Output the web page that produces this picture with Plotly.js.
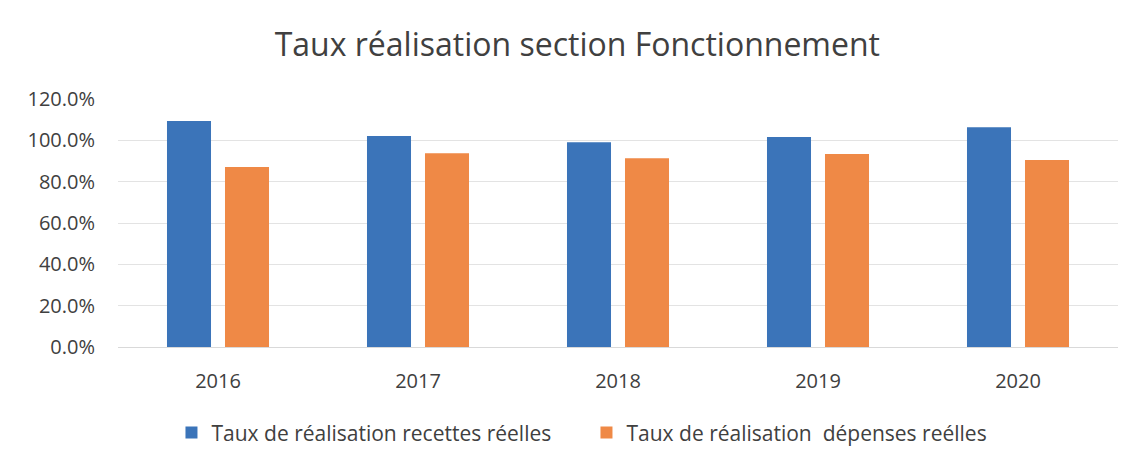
<!DOCTYPE html>
<html>
<head>
<meta charset="utf-8">
<script src="https://cdn.plot.ly/plotly-3.0.1.min.js"></script>
<style>html,body{margin:0;padding:0;background:#fff;}#chart{width:1141px;height:462px;}</style>
</head>
<body>
<div id="chart"></div>
<script>
var years = ["2016", "2017", "2018", "2019", "2020"];
var recettes = [1.094, 1.021, 0.991, 1.016, 1.063];
var depenses = [0.871, 0.938, 0.913, 0.934, 0.905];
var seriesNames = ["Taux de réalisation recettes réelles", "Taux de réalisation  dépenses reélles"];
var tickVals = [0, 0.2, 0.4, 0.6, 0.8, 1.0, 1.2];

var font = "Open Sans, sans-serif";
var data = [
  {type: "bar", x: years, y: recettes, name: seriesNames[0], marker: {color: "#3b74b9"}},
  {type: "bar", x: years, y: depenses, name: seriesNames[1], marker: {color: "#ef8946"}}
];
var layout = {
  width: 1141, height: 462,
  margin: {l: 118, r: 23, t: 99, b: 115},
  paper_bgcolor: "#fff", plot_bgcolor: "#fff",
  font: {family: font, color: "#404040", size: 20},
  title: {text: "Taux réalisation section Fonctionnement", font: {family: font, size: 32, color: "#404040"},
          x: 0.506, xref: "container", xanchor: "center", y: 0.903, yref: "container", yanchor: "middle"},
  barmode: "group", bargap: 0.42, bargroupgap: 0.241,
  xaxis: {type: "category", showgrid: false, zeroline: false, showline: false, ticks: "",
          ticklabelstandoff: 20, tickfont: {size: 20, color: "#404040"}},
  yaxis: {range: [0, 1.2], tickvals: tickVals, tickformat: ".1%", showgrid: true, gridcolor: "#e3e3e3",
          gridwidth: 1, zeroline: true, zerolinecolor: "#d9d9d9", showline: false, ticks: "",
          ticklabelstandoff: 22, tickfont: {size: 20, color: "#404040"}},
  legend: {orientation: "h", x: 0.514, xref: "container", xanchor: "center", y: 0.063, yref: "container", yanchor: "middle",
           font: {size: 21, color: "#404040"}, itemwidth: 30, traceorder: "normal", entrywidth: 370},
  showlegend: true
};
Plotly.newPlot("chart", data, layout, {displayModeBar: false, staticPlot: true});
</script>
</body>
</html>
